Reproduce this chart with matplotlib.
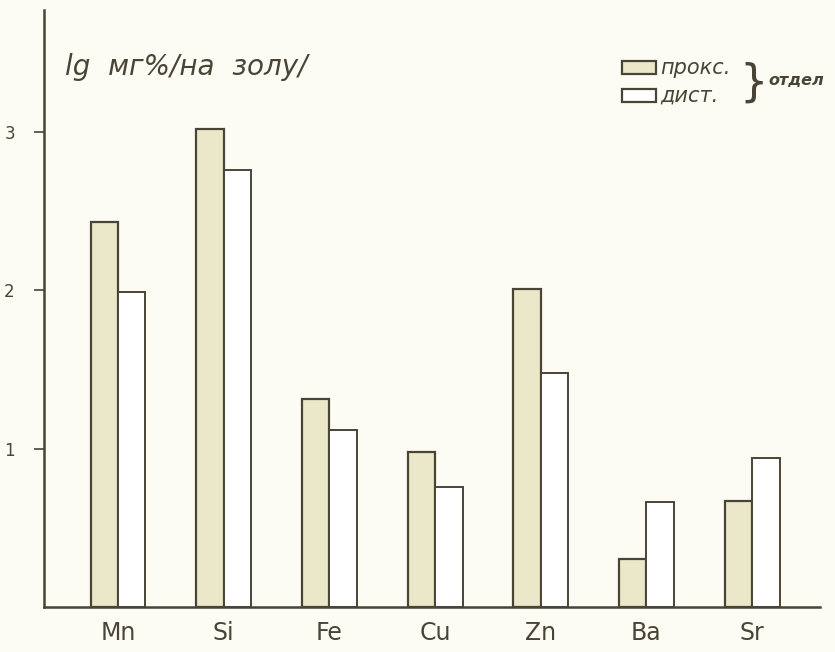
import numpy as np
import matplotlib
matplotlib.use("Agg")
import matplotlib.pyplot as plt
from matplotlib.patches import Rectangle

# lg mg% (per ash), proximal vs distal section
elements = ["Mn", "Si", "Fe", "Cu", "Zn", "Ba", "Sr"]
prox = [2.43, 3.02, 1.31, 0.98, 2.01, 0.30, 0.67]
dist = [1.99, 2.76, 1.12, 0.76, 1.48, 0.66, 0.94]
yticks = [1, 2, 3]

bg = "#fdfcf4"
ink = "#4a4436"
prox_fill = "#ebe7c9"

fig = plt.figure(figsize=(8.35, 6.52), dpi=100, facecolor=bg)
ax = fig.add_axes([0.0527, 0.069, 0.929, 0.916])
ax.set_facecolor(bg)

x = np.arange(len(elements))
w = 0.26
ax.bar(x - w / 2, prox, w, color=prox_fill, edgecolor=ink, linewidth=1.6, zorder=2)
ax.bar(x + w / 2, dist, w, color="white", edgecolor=ink, linewidth=1.4, zorder=2)

ax.set_xlim(-0.70, 6.64)
ax.set_ylim(0, 3.77)

for s in ["top", "right"]:
    ax.spines[s].set_visible(False)
for s in ["left", "bottom"]:
    ax.spines[s].set_color(ink)
    ax.spines[s].set_linewidth(1.8)
    ax.spines[s].set_zorder(3)

ax.set_yticks(yticks)
ax.set_yticklabels([str(t) for t in yticks], fontsize=12, color=ink)
ax.tick_params(axis="y", direction="out", length=7, width=1.2, color=ink, pad=14)
ax.set_xticks(x)
ax.set_xticklabels(elements, fontsize=17, color=ink)
ax.tick_params(axis="x", length=0, pad=10)

ax.text(0.027, 0.905, "lg  мг%/на  золу/", transform=ax.transAxes,
        fontsize=20, style="italic", color=ink, va="center")

# legend drawn by hand (bracketed "отдел")
for yy, fc, lab in [(0.903, prox_fill, "прокс."), (0.857, "white", "дист.")]:
    ax.add_patch(Rectangle((0.745, yy - 0.011), 0.044, 0.022, transform=ax.transAxes,
                           facecolor=fc, edgecolor=ink, linewidth=1.6, clip_on=False))
    ax.text(0.794, yy, lab, transform=ax.transAxes, fontsize=15,
            style="italic", color=ink, va="center")
ax.text(0.896, 0.878, "}", transform=ax.transAxes, fontsize=32, color=ink,
        va="center", ha="left")
ax.text(0.934, 0.881, "отдел", transform=ax.transAxes, fontsize=11.5,
        style="italic", weight="bold", color=ink, va="center")

fig.savefig("out.png", dpi=100, facecolor=bg)
